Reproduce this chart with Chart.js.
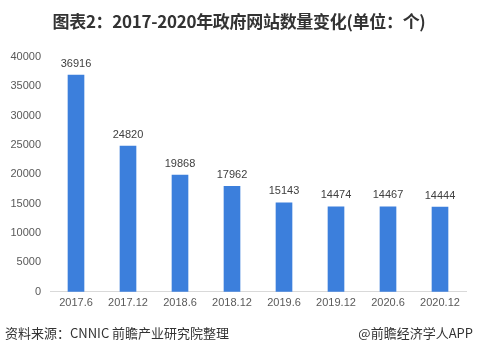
<!DOCTYPE html>
<html><head><meta charset="utf-8">
<script src="https://cdn.jsdelivr.net/npm/chart.js@4/dist/chart.umd.min.js"></script>
<style>
html,body{margin:0;padding:0;background:#fff;width:478px;height:357px;overflow:hidden;position:relative;font-family:"Noto Sans CJK SC","Noto Sans",sans-serif;}
#title{position:absolute;left:0;top:8px;width:478px;text-align:center;font-size:17px;font-weight:bold;color:#333;letter-spacing:-0.3px;}
#src{position:absolute;left:5px;top:323px;font-size:13px;color:#333;}
#app{position:absolute;right:5px;top:323px;font-size:13px;color:#333;}
#c{position:absolute;left:0;top:0;}
</style></head><body>
<canvas id="c" width="478" height="357"></canvas>
<div id="title">图表2：2017-2020年政府网站数量变化(单位：个)</div>
<div id="src">资料来源：CNNIC 前瞻产业研究院整理</div>
<div id="app">@前瞻经济学人APP</div>
<script>
const categories = ["2017.6","2017.12","2018.6","2018.12","2019.6","2019.12","2020.6","2020.12"];
const siteCounts = [36916,24820,19868,17962,15143,14474,14467,14444];
const yTicks = [0,5000,10000,15000,20000,25000,30000,35000,40000];

const valueLabels = {
  id:'valueLabels',
  afterDatasetsDraw(chart){
    const ctx = chart.ctx;
    const meta = chart.getDatasetMeta(0);
    ctx.save();
    ctx.font = '11px "Liberation Sans", Arial, sans-serif';
    ctx.fillStyle = '#404040';
    ctx.textAlign = 'center';
    ctx.textBaseline = 'bottom';
    meta.data.forEach((bar,i)=>{
      ctx.fillText(String(siteCounts[i]), bar.x, bar.y - 6);
    });
    ctx.restore();
  }
};

new Chart(document.getElementById('c'),{
  type:'bar',
  data:{labels:categories,datasets:[{data:siteCounts,backgroundColor:'#3c7fdc',barThickness:16}]},
  options:{
    responsive:false,animation:false,
    layout:{padding:{top:57,bottom:42,right:12,left:0}},
    plugins:{legend:{display:false},tooltip:{enabled:false}},
    scales:{
      x:{
        grid:{display:false,drawTicks:false},
        border:{display:true,color:'#d9d9d9'},
        ticks:{color:'#595959',font:{size:11,family:'"Liberation Sans", Arial, sans-serif'},padding:5,maxRotation:0}
      },
      y:{
        min:0,max:40000,
        afterBuildTicks(axis){axis.ticks = yTicks.map(v=>({value:v}));},
        afterFit(axis){axis.width = 50;},
        grid:{display:false,drawTicks:false},
        border:{display:false},
        ticks:{color:'#595959',font:{size:11,family:'"Liberation Sans", Arial, sans-serif'},padding:9,callback:(v)=>String(v)}
      }
    }
  },
  plugins:[valueLabels]
});
</script>
</body></html>
